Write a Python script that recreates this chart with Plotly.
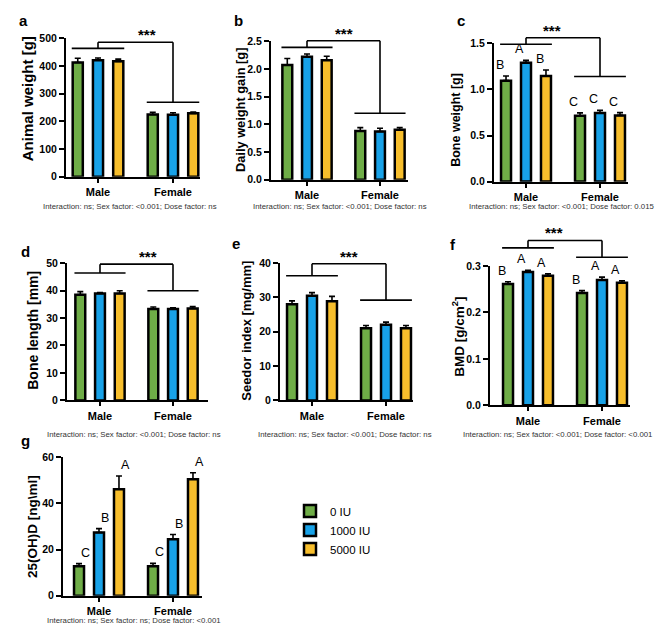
import plotly.graph_objects as go

# ---------------- data ----------------
categories = ["Male", "Female"]
doses = ["0 IU", "1000 IU", "5000 IU"]

# per dose: [Male, Female]
animal_weight_mean = [[413, 225], [421, 224], [417, 229]]
animal_weight_err = [[15, 8], [8, 7], [8, 5]]

daily_gain_mean = [[2.07, 0.88], [2.22, 0.87], [2.16, 0.90]]
daily_gain_err = [[0.12, 0.06], [0.05, 0.06], [0.07, 0.04]]

bone_weight_mean = [[1.095, 0.715], [1.29, 0.743], [1.146, 0.718]]
bone_weight_err = [[0.05, 0.03], [0.025, 0.03], [0.065, 0.03]]

bone_length_mean = [[38.5, 33.3], [38.9, 33.3], [38.9, 33.5]]
bone_length_err = [[1.1, 0.7], [0.4, 0.4], [1.0, 0.7]]

seedor_mean = [[28.0, 21.0], [30.5, 22.0], [28.9, 21.0]]
seedor_err = [[1.0, 0.8], [0.9, 0.8], [1.4, 0.8]]

bmd_mean = [[0.261, 0.242], [0.287, 0.270], [0.279, 0.264]]
bmd_err = [[0.005, 0.005], [0.004, 0.006], [0.004, 0.004]]

vitd_mean = [[12.8, 12.8], [27.4, 24.5], [46.2, 50.5]]
vitd_err = [[1.1, 1.2], [1.7, 2.0], [5.7, 2.8]]

bone_weight_letters = [["B", "C"], ["A", "C"], ["B", "C"]]
bmd_letters = [["B", "B"], ["A", "A"], ["A", "A"]]
vitd_letters = [["C", "C"], ["B", "B"], ["A", "A"]]

stats_ns_sex = "Interaction: ns; Sex factor: <0.001; Dose factor: ns"
stats_c = "Interaction: ns; Sex factor: <0.001; Dose factor: 0.015"
stats_f = "Interaction: ns; Sex factor: <0.001; Dose factor: <0.001"
stats_g = "Interaction: ns; Sex factor: ns; Dose factor: <0.001"

colors = ["#6FAD47", "#18A2E8", "#F7BE2C"]

# ---------------- layout config ----------------
W, H = 669, 637
FONT = "Liberation Sans, Arial, sans-serif"

panels = [
    dict(key="a", title="Animal weight [g]", mean=animal_weight_mean, err=animal_weight_err,
         ymax=500, tickvals=[0, 100, 200, 300, 400, 500], fmt="{:.0f}",
         box=(66, 200, 33, 174, 98, 173), brackets=(464, 269, 486), letters=None,
         note=stats_ns_sex, note_xy=(130, 204), tag_xy=(23, 15), title_xy=(27, 95), tsize=15),
    dict(key="b", title="Daily weight gain [g]", mean=daily_gain_mean, err=daily_gain_err,
         ymax=2.5, tickvals=[0, 0.5, 1.0, 1.5, 2.0, 2.5], fmt="{:.1f}",
         box=(271, 408, 36, 177, 307, 380), brackets=(2.39, 1.20, 2.51), letters=None,
         note=stats_ns_sex, note_xy=(340, 204), tag_xy=(238, 15), title_xy=(240, 106), tsize=12.8),
    dict(key="c", title="Bone weight [g]", mean=bone_weight_mean, err=bone_weight_err,
         ymax=1.5, tickvals=[0, 0.5, 1.0, 1.5], fmt="{:.1f}",
         box=(494, 628, 38, 179, 526, 600), brackets=(1.49, 1.14, 1.56), letters=bone_weight_letters,
         note=stats_c, note_xy=(562, 204), tag_xy=(461, 15), title_xy=(456, 116), tsize=12.5),
    dict(key="d", title="Bone length [mm]", mean=bone_length_mean, err=bone_length_err,
         ymax=50, tickvals=[0, 10, 20, 30, 40, 50], fmt="{:.0f}",
         box=(67, 208, 262, 402, 100, 173), brackets=(46.4, 39.9, 49.6), letters=None,
         note=stats_ns_sex, note_xy=(134, 437), tag_xy=(25, 250), title_xy=(33, 331), tsize=14),
    dict(key="e", title="Seedor index [mg/mm]", mean=seedor_mean, err=seedor_err,
         ymax=40, tickvals=[0, 10, 20, 30, 40], fmt="{:.0f}",
         box=(280, 413, 262, 402, 312, 386), brackets=(36.3, 29.2, 39.8), letters=None,
         note=stats_ns_sex, note_xy=(345, 437), tag_xy=(236, 242), title_xy=(247, 331), tsize=13),
    dict(key="f", title="BMD [g/cm<sup>2</sup>]", mean=bmd_mean, err=bmd_err,
         ymax=0.3, tickvals=[0, 0.1, 0.2, 0.3], fmt="{:.1f}",
         box=(490, 630, 265, 407, 528, 602), brackets=(0.339, 0.319, 0.355), letters=bmd_letters,
         note=stats_f, note_xy=(557, 437), tag_xy=(453, 243), title_xy=(458, 337), tsize=13.5),
    dict(key="g", title="25(OH)D [ng\\ml]", mean=vitd_mean, err=vitd_err,
         ymax=60, tickvals=[0, 20, 40, 60], fmt="{:.0f}",
         box=(63, 202, 460, 601, 99, 173), brackets=None, letters=vitd_letters,
         note=stats_g, note_xy=(134, 626), tag_xy=(26, 443), title_xy=(33, 531), tsize=13.5),
]

SLOT = 0.27          # spacing between bars in a group (category units)
HALF = 0.35          # half-width of group bracket

fig = go.Figure()
shapes = []
annotations = []


def px2paper(x, y):
    return x / W, 1 - y / H


for n, p in enumerate(panels, start=1):
    l, r, t, b, mc, fc = p["box"]
    unit = fc - mc
    xr = ((l - mc) / unit, (r - mc) / unit)
    xa = "x" if n == 1 else f"x{n}"
    ya = "y" if n == 1 else f"y{n}"

    def dx(xv, mc=mc, unit=unit):
        return mc + xv * unit

    def dy(yv, t=t, b=b, ymax=p["ymax"]):
        return b - yv / ymax * (b - t)

    for di, dose in enumerate(doses):
        fig.add_trace(go.Bar(
            x=categories, y=p["mean"][di], name=dose, legendgroup=dose,
            showlegend=(n == 1), xaxis=xa, yaxis=ya,
            marker=dict(color=colors[di], line=dict(color="black", width=2.5)),
            error_y=dict(type="data", array=p["err"][di], arrayminus=[0, 0],
                         symmetric=False, color="black", thickness=1.6, width=3),
        ))

    axis_common = dict(showline=True, linewidth=2, linecolor="black", ticks="outside",
                       tickwidth=2, tickcolor="black", showgrid=False, zeroline=False,
                       fixedrange=True)
    fig.layout[("xaxis" if n == 1 else f"xaxis{n}")] = dict(
        domain=[l / W, r / W], range=list(xr), anchor=ya, ticklen=4,
        tickfont=dict(family=FONT, size=11, color="black", weight="bold"), **axis_common)
    fig.layout[("yaxis" if n == 1 else f"yaxis{n}")] = dict(
        domain=[1 - b / H, 1 - t / H], range=[0, p["ymax"]], anchor=xa, ticklen=5,
        tickvals=p["tickvals"], ticktext=[p["fmt"].format(v) for v in p["tickvals"]],
        tickfont=dict(family=FONT, size=10.5, color="black", weight="bold"), **axis_common)

    # brackets
    if p["brackets"]:
        mlev, flev, top = p["brackets"]
        segs = [
            ((-HALF, mlev), (HALF, mlev)),
            ((1 - HALF, flev), (1 + HALF, flev)),
            ((0, mlev), (0, top)),
            ((0, top), (1, top)),
            ((1, top), (1, flev)),
        ]
        for (x0, y0), (x1, y1) in segs:
            X0, Y0 = px2paper(dx(x0), dy(y0))
            X1, Y1 = px2paper(dx(x1), dy(y1))
            shapes.append(dict(type="line", xref="paper", yref="paper",
                               x0=X0, y0=Y0, x1=X1, y1=Y1,
                               line=dict(color="black", width=1.6)))
        sx, sy = px2paper(dx(0.5), dy(top))
        annotations.append(dict(x=sx, y=sy, xref="paper", yref="paper", text="<b>***</b>",
                                showarrow=False, yanchor="bottom", yshift=-3,
                                font=dict(family=FONT, size=15, color="black")))

    # significance letters
    if p["letters"]:
        for di in range(3):
            for ci in range(2):
                xv = ci + (di - 1) * SLOT
                yv = p["mean"][di][ci] + p["err"][di][ci]
                X, Y = px2paper(dx(xv), dy(yv))
                annotations.append(dict(x=X, y=Y, xref="paper", yref="paper",
                                        text=p["letters"][di][ci], showarrow=False,
                                        yanchor="bottom", yshift=2,
                                        font=dict(family=FONT, size=12.5, color="black")))

    # y-axis title
    X, Y = px2paper(*p["title_xy"])
    annotations.append(dict(x=X, y=Y, xref="paper", yref="paper", text=p["title"],
                            textangle=-90, showarrow=False, xanchor="center", yanchor="middle",
                            font=dict(family=FONT, size=p["tsize"], color="black", weight="bold")))
    # panel tag
    X, Y = px2paper(*p["tag_xy"])
    annotations.append(dict(x=X, y=Y, xref="paper", yref="paper", text=p["key"],
                            showarrow=False, xanchor="center", yanchor="middle",
                            font=dict(family=FONT, size=15, color="black", weight="bold")))
    # stats note
    X, Y = px2paper(*p["note_xy"])
    annotations.append(dict(x=X, y=Y, xref="paper", yref="paper", text=p["note"],
                            showarrow=False, xanchor="center", yanchor="middle",
                            font=dict(family=FONT, size=7.8, color="#333333")))

fig.update_layout(
    width=W, height=H, margin=dict(l=0, r=0, t=0, b=0),
    paper_bgcolor="white", plot_bgcolor="white",
    barmode="group", bargap=0.19, bargroupgap=0.5,
    shapes=shapes, annotations=annotations,
    showlegend=True,
    legend=dict(x=290 / W, y=1 - 500 / H, xanchor="left", yanchor="top",
                font=dict(family=FONT, size=11.5, color="black"),
                bgcolor="rgba(0,0,0,0)", tracegroupgap=0),
)

fig.write_html("out.html")
